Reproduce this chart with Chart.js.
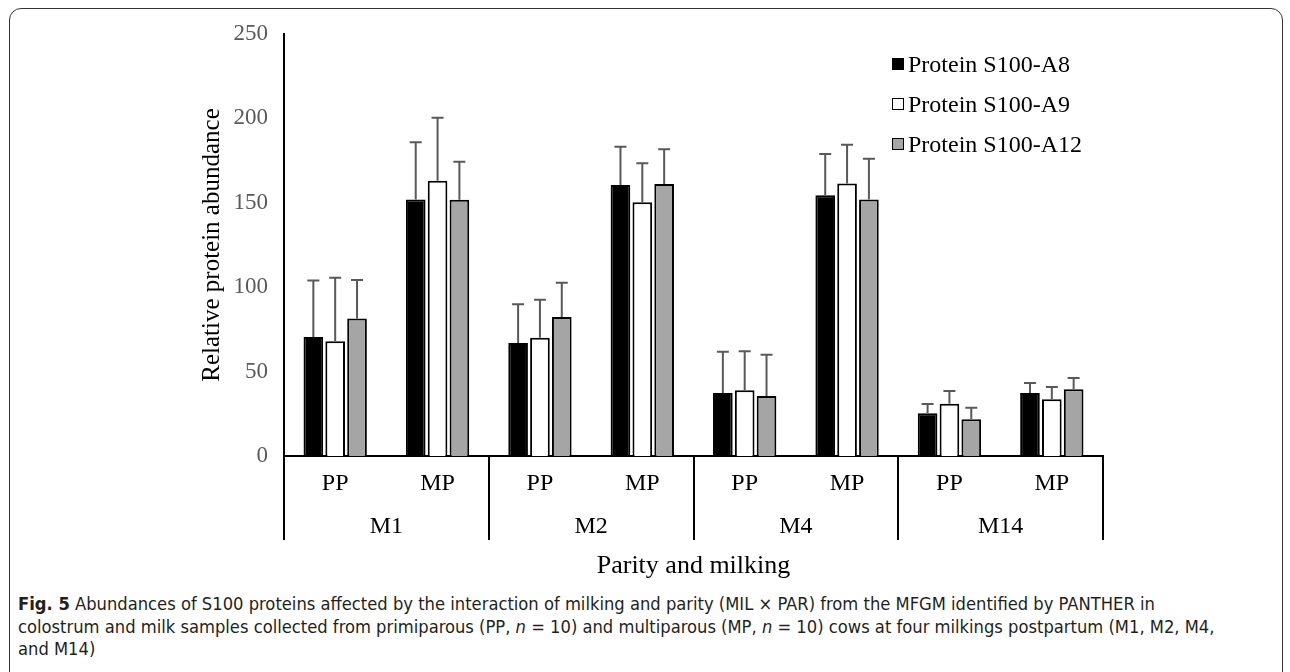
<!DOCTYPE html>
<html>
<head>
<meta charset="utf-8">
<script src="https://cdn.jsdelivr.net/npm/chart.js@4.4.1/dist/chart.umd.min.js"></script>
<style>
  html, body { margin: 0; padding: 0; background: #fff; }
  body { width: 1290px; height: 672px; position: relative; overflow: hidden; }
  .frame {
    position: absolute; left: 9px; top: 8px; width: 1274px; height: 720px;
    border: 1.5px solid #333; border-radius: 12px; box-sizing: border-box;
  }
  #chartWrap { position: absolute; left: 0; top: 0; width: 1290px; height: 590px; }
  #legend {
    position: absolute; left: 892px; top: 44px;
    font-family: "Liberation Serif", "Times New Roman", serif; font-size: 24px; color: #000;
  }
  #legend .item { display: flex; align-items: center; height: 40px; }
  #legend .box { width: 12px; height: 12px; border: 1.5px solid #000; box-sizing: border-box; margin-right: 4px; }
  .caption {
    position: absolute; left: 18px; top: 593px; color: #231f20;
    font-family: "Liberation Sans Narrow", "DejaVu Sans Condensed", "Liberation Sans", sans-serif;
    font-size: 18.2px; line-height: 22.5px; white-space: nowrap;
  }
  .caption b { font-weight: bold; }
</style>
</head>
<body>
<div class="frame"></div>
<div id="chartWrap"><canvas id="chart" width="1290" height="590"></canvas></div>
<div id="legend"></div>
<div class="caption">
  <div><b>Fig. 5</b> Abundances of S100 proteins affected by the interaction of milking and parity (MIL × PAR) from the MFGM identified by PANTHER in</div>
  <div>colostrum and milk samples collected from primiparous (PP, <i>n</i> = 10) and multiparous (MP, <i>n</i> = 10) cows at four milkings postpartum (M1, M2, M4,</div>
  <div>and M14)</div>
</div>
<script>
// categories
const parity = ["PP", "MP", "PP", "MP", "PP", "MP", "PP", "MP"];
const milkings = ["M1", "M2", "M4", "M14"];
const seriesNames = ["Protein S100-A8", "Protein S100-A9", "Protein S100-A12"];

// means
const s100A8 = [70.5, 152, 67, 160.5, 37.3, 154.5, 25.3, 37.3];
const s100A9 = [68, 163, 70, 150.3, 38.9, 161.5, 31, 33.6];
const s100A12 = [81.5, 151.8, 82.3, 161.1, 35.5, 151.9, 21.7, 39.5];

// error bars (upper only)
const errA8 = [33.4, 33.8, 22.9, 22.7, 24.5, 24.4, 5.5, 5.9];
const errA9 = [37.6, 37.4, 22.6, 23.1, 23.1, 22.9, 7.5, 7.3];
const errA12 = [22.8, 22.5, 20.4, 20.6, 24.5, 24.2, 6.9, 6.7];

const yTicks = [0, 50, 100, 150, 200, 250];

const serif = '"Liberation Serif", "Times New Roman", serif';
const fills = ["#000000", "#ffffff", "#a5a5a5"];
const errors = [errA8, errA9, errA12];

// upper error bars
const errorBars = {
  id: "errorBars",
  afterDatasetsDraw(chart) {
    const ctx = chart.ctx;
    const y = chart.scales.y;
    ctx.save();
    ctx.strokeStyle = "#595959";
    ctx.lineWidth = 2;
    chart.data.datasets.forEach((ds, di) => {
      const meta = chart.getDatasetMeta(di);
      meta.data.forEach((bar, i) => {
        const top = y.getPixelForValue(ds.data[i] + errors[di][i]);
        ctx.beginPath();
        ctx.moveTo(bar.x, bar.y);
        ctx.lineTo(bar.x, top);
        ctx.moveTo(bar.x - 6, top);
        ctx.lineTo(bar.x + 6, top);
        ctx.stroke();
      });
    });
    ctx.restore();
  }
};

// two level category axis
const groupAxis = {
  id: "groupAxis",
  afterDraw(chart) {
    const ctx = chart.ctx;
    const x = chart.scales.x;
    const area = chart.chartArea;
    const step = (area.right - area.left) / parity.length;
    ctx.save();
    ctx.fillStyle = "#000";
    ctx.font = "24px " + serif;
    ctx.textAlign = "center";
    ctx.textBaseline = "middle";
    parity.forEach((p, i) => {
      ctx.fillText(p, x.getPixelForValue(i), area.bottom + 28);
    });
    milkings.forEach((m, g) => {
      const cx = (x.getPixelForValue(g * 2) + x.getPixelForValue(g * 2 + 1)) / 2;
      ctx.fillText(m, cx, area.bottom + 71);
    });
    ctx.strokeStyle = "#000";
    ctx.lineWidth = 2;
    for (let g = 0; g <= milkings.length; g++) {
      const px = Math.round(area.left + g * 2 * step);
      ctx.beginPath();
      ctx.moveTo(px, area.bottom);
      ctx.lineTo(px, area.bottom + 84);
      ctx.stroke();
    }
    ctx.restore();
  }
};

const ctx = document.getElementById("chart").getContext("2d");
const chart = new Chart(ctx, {
  type: "bar",
  data: {
    labels: parity,
    datasets: [s100A8, s100A9, s100A12].map((d, i) => ({
      label: seriesNames[i],
      data: d,
      backgroundColor: fills[i],
      borderColor: "#000000",
      borderWidth: 2,
      borderSkipped: "bottom",
      categoryPercentage: 0.64,
      barPercentage: 0.9
    }))
  },
  options: {
    responsive: false,
    animation: false,
    layout: { padding: { left: 197, right: 187, top: 34, bottom: 0 } },
    plugins: {
      legend: { display: false },
      tooltip: { enabled: false }
    },
    scales: {
      x: {
        grid: { display: false, drawTicks: false },
        border: { display: true, color: "#000", width: 2 },
        ticks: { display: false },
        title: {
          display: true,
          text: "Parity and milking",
          color: "#000",
          font: { family: serif, size: 26 },
          padding: { top: 0, bottom: 8 }
        },
        afterFit(scale) { scale.height = 134; }
      },
      y: {
        min: 0,
        max: 250,
        afterBuildTicks(scale) { scale.ticks = yTicks.map(v => ({ value: v })); },
        grid: { display: false, drawTicks: false },
        border: { display: true, color: "#000", width: 2 },
        ticks: { color: "#595959", font: { family: serif, size: 23 }, padding: 16 },
        title: {
          display: true,
          text: "Relative protein abundance",
          color: "#000",
          font: { family: serif, size: 25 },
          padding: { top: 0, bottom: 0 }
        },
        afterFit(scale) { scale.width = 87; }
      }
    }
  },
  plugins: [errorBars, groupAxis]
});

// html legend from the datasets
const legendEl = document.getElementById("legend");
chart.data.datasets.forEach(ds => {
  const item = document.createElement("div");
  item.className = "item";
  item.innerHTML = `<span class="box" style="background:${ds.backgroundColor}"></span><span>${ds.label}</span>`;
  legendEl.appendChild(item);
});
</script>
</body>
</html>
